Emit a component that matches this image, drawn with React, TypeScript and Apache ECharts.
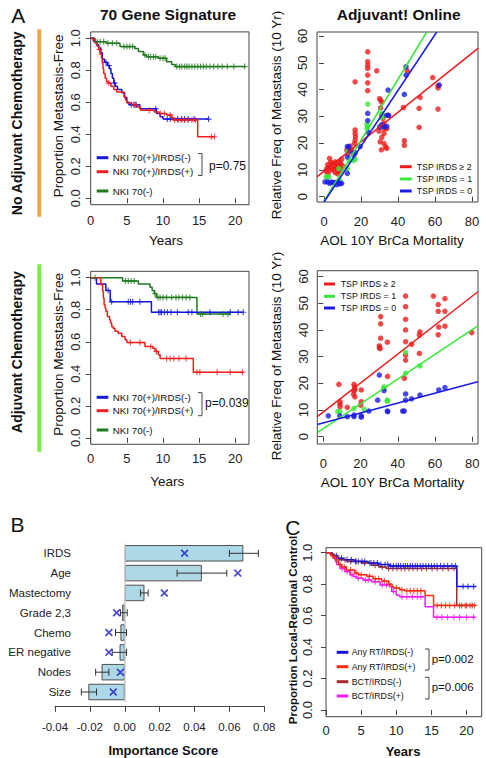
import React, { useEffect, useRef } from "react";
import * as echarts from "echarts";

const FONT = "'Liberation Sans', Arial, Helvetica, sans-serif";

// ---------- tick values ----------
const kmTicksX = [0, 5, 10, 15, 20];
const kmTicksY = [0, 0.2, 0.4, 0.6, 0.8, 1.0];
const scTicksX = [0, 20, 40, 60, 80];
const scTicksY = [0, 10, 20, 30, 40, 50, 60];
const bTicksX = [-0.04, -0.02, 0, 0.02, 0.04, 0.06, 0.08];

// ---------- Panel A, no adjuvant chemo (70 gene) ----------
const noAdjBlueSteps = [[0, 1], [0.4, 0.98], [0.8, 0.96], [1.1, 0.94], [1.4, 0.91], [1.6, 0.87], [1.9, 0.85], [2.3, 0.83], [2.6, 0.81], [2.8, 0.78], [3.0, 0.75], [3.2, 0.72], [3.4, 0.7], [3.7, 0.68], [4.3, 0.66], [4.7, 0.63], [5.0, 0.6], [5.3, 0.585], [6.8, 0.56], [9.1, 0.53], [9.6, 0.51], [10.0, 0.495]];
const noAdjBlueEnd = 16.3;
const noAdjBlueCens = [2.1, 2.5, 3.3, 5.6, 6.0, 6.3, 9.0, 10.6, 11.0, 12.0, 12.6, 13.0, 13.5, 14.3, 16.3];
const noAdjRedSteps = [[0, 1], [0.3, 0.99], [0.6, 0.97], [0.9, 0.95], [1.1, 0.93], [1.3, 0.9], [1.5, 0.875], [1.6, 0.845], [1.7, 0.81], [1.8, 0.78], [2.0, 0.75], [2.2, 0.73], [2.4, 0.72], [2.8, 0.7], [3.2, 0.68], [3.6, 0.665], [4.6, 0.635], [4.8, 0.615], [5.0, 0.595], [5.7, 0.585], [6.4, 0.57], [6.9, 0.55], [8.8, 0.54], [9.5, 0.53], [10.5, 0.52], [11.2, 0.505], [11.4, 0.49], [14.8, 0.385]];
const noAdjRedEnd = 17.2;
const noAdjRedCens = [1.2, 2.5, 6.0, 6.2, 8.1, 9.7, 10.2, 11.0, 11.6, 12.1, 12.5, 13.0, 13.5, 14.0, 14.5, 16.7, 17.1];
const noAdjGreenSteps = [[0, 1], [0.6, 0.979], [2.2, 0.969], [4.05, 0.948], [6.1, 0.937], [6.6, 0.917], [7.3, 0.896], [7.7, 0.885], [9.35, 0.875], [10.5, 0.854], [11.2, 0.837], [11.7, 0.823]];
const noAdjGreenEnd = 21.4;
const noAdjGreenCens = [0.9, 1.3, 1.8, 2.4, 3.0, 3.6, 4.6, 5.0, 5.4, 5.8, 7.5, 8.0, 8.3, 8.7, 9.0, 9.6, 10.0, 10.3, 11.9, 12.3, 12.6, 13.0, 13.3, 13.6, 14.0, 14.4, 14.8, 15.2, 15.6, 16.0, 16.5, 17.0, 17.6, 18.2, 18.9, 19.8, 21.3];

// ---------- Panel A, adjuvant chemo (70 gene) ----------
const adjBlueSteps = [[0, 1], [0.8, 0.96], [2.1, 0.92], [2.7, 0.85], [8.4, 0.784]];
const adjBlueEnd = 21.1;
const adjBlueCens = [2.4, 2.9, 5.2, 5.5, 5.8, 6.8, 9.4, 9.6, 9.8, 10.2, 10.6, 11.1, 12.0, 13.5, 14.0, 16.5, 19.3, 20.4, 21.1];
const adjRedSteps = [[0, 1], [1.4, 0.956], [1.65, 0.915], [1.75, 0.873], [1.85, 0.831], [2.0, 0.81], [2.1, 0.79], [2.3, 0.758], [2.6, 0.738], [2.75, 0.717], [2.9, 0.696], [3.1, 0.685], [3.35, 0.665], [3.8, 0.654], [4.3, 0.633], [4.75, 0.613], [5.0, 0.595], [7.5, 0.571], [8.6, 0.56], [8.9, 0.54], [9.35, 0.519], [9.6, 0.496], [14.2, 0.41]];
const adjRedEnd = 21.1;
const adjRedCens = [5.5, 6.8, 8.3, 9.1, 10.5, 11.0, 11.5, 12.2, 13.2, 14.7, 15.1, 17.5, 19.3, 21.0];
const adjGreenSteps = [[0, 1], [4.4, 0.98], [6.6, 0.96], [8.2, 0.94], [8.5, 0.92], [8.8, 0.9], [9.1, 0.877], [14.7, 0.773]];
const adjGreenEnd = 19.3;
const adjGreenCens = [0.6, 4.8, 5.2, 5.6, 6.0, 8.9, 9.3, 9.6, 10.0, 10.5, 11.2, 11.8, 12.2, 12.7, 13.2, 13.7, 15.2, 15.5, 18.3, 19.0];

// ---------- Adjuvant! Online scatter, no adjuvant ----------
const topRedPts = [[1.0, 9.5], [1.5, 10.5], [2.0, 12.0], [2.5, 11.0], [3.0, 14.3], [3.0, 9.8], [4.0, 10.5], [4.5, 12.5], [5.0, 10.0], [5.5, 11.5], [6.0, 9.0], [6.5, 11.0], [7.0, 10.2], [7.5, 12.0], [7.5, 8.5], [8.0, 9.5], [8.5, 11.0], [8.0, 13.0], [9.0, 10.0], [9.0, 12.5], [9.5, 14.0], [10.0, 11.5], [6.0, 13.0], [3.5, 12.8], [2.2, 8.5], [12.3, 17.4], [14.1, 18.9], [13.0, 16.0], [15.0, 17.5], [16.8, 24.9], [16.8, 23.6], [17.0, 22.4], [16.8, 21.1], [16.5, 19.9], [16.8, 42.9], [23.6, 54.1], [23.6, 50.4], [23.6, 49.1], [23.6, 47.9], [23.6, 45.4], [23.6, 42.5], [23.6, 39.6], [28.5, 47.0], [30.0, 36.6], [30.6, 36.0], [31.2, 35.3], [30.6, 33.2], [31.2, 30.4], [31.8, 29.1], [32.4, 27.3], [32.4, 25.4], [32.4, 23.6], [31.2, 22.1], [32.4, 19.8], [33.3, 18.6], [33.9, 18.0], [33.9, 25.4], [34.8, 30.4], [29.7, 24.5], [30.3, 20.5], [31.0, 17.5], [42.9, 33.3], [43.4, 20.9], [43.4, 19.2], [45.0, 47.0], [51.9, 37.1], [51.4, 33.0], [51.4, 25.9], [58.7, 44.5], [61.6, 40.6], [61.6, 41.5], [61.6, 32.7]];
const topGreenPts = [[1.1, 7.4], [1.8, 7.4], [2.5, 7.4], [8.6, 6.0], [8.0, 10.5], [12.6, 16.8], [12.6, 10.6], [13.7, 13.5], [16.8, 14.0], [16.0, 13.5], [23.2, 27.0], [23.6, 26.2], [23.2, 25.4], [23.6, 34.6], [31.2, 31.0], [31.8, 30.4], [31.2, 29.5]];
const topBluePts = [[44.3, 48.5], [44.3, 45.4], [43.4, 38.2], [62.3, 41.7], [34.6, 39.8], [33.9, 30.4], [34.8, 30.4], [31.2, 26.9], [32.4, 26.2], [33.9, 26.2], [23.6, 31.1], [23.6, 28.4], [12.6, 18.7], [13.3, 18.7], [14.1, 17.0], [12.6, 14.8], [12.6, 8.7], [16.8, 16.4], [19.5, 18.7], [0.5, 5.5], [2.0, 5.5], [4.0, 5.5], [3.0, 5.0], [5.0, 5.2], [6.0, 5.3], [6.9, 4.5], [8.6, 4.8], [9.5, 5.0], [7.5, 5.5], [30.0, 26.0], [16.0, 15.5], [24.0, 24.0]];
const topRedFit = [[-3.8, 7.4], [83.2, 55.4]];
const topGreenFit = [[-0.3, -2], [55.5, 61.5]];
const topBlueFit = [[0, -2], [60.9, 61.5]];

// ---------- Adjuvant! Online scatter, adjuvant ----------
const midRedPts = [[44.2, 52.7], [44.2, 48.7], [44.2, 44.0], [44.2, 40.0], [44.2, 35.6], [44.2, 30.6], [44.2, 28.7], [43.5, 21.9], [30.8, 45.0], [30.8, 42.3], [30.8, 36.9], [30.1, 34.0], [30.1, 33.4], [30.5, 33.0], [34.4, 35.4], [34.5, 22.6], [51.9, 39.3], [51.6, 38.1], [51.6, 31.2], [47.4, 34.6], [59.1, 52.7], [61.7, 49.5], [61.7, 47.0], [62.0, 41.1], [61.7, 38.2], [65.3, 51.7], [65.3, 47.0], [65.3, 41.4], [79.7, 39.0], [8.4, 19.6], [9.0, 13.1], [9.0, 12.2], [9.0, 11.2], [12.9, 11.0], [16.5, 19.6], [16.8, 18.7], [17.0, 17.7], [16.5, 17.1], [16.3, 15.9], [17.0, 14.9], [20.4, 17.5], [20.4, 13.1], [20.0, 11.8]];
const midGreenPts = [[44.2, 31.6], [44.2, 23.8], [32.6, 18.7], [32.6, 18.1], [34.4, 13.7], [34.4, 13.3], [51.9, 26.5], [7.8, 9.4], [8.9, 9.4], [16.5, 10.6], [21.9, 10.3]];
const midBluePts = [[2.7, 7.8], [8.9, 7.8], [12.9, 7.5], [16.5, 8.1], [16.5, 7.5], [20.4, 7.8], [20.4, 7.3], [24.5, 9.6], [30.1, 23.1], [32.6, 17.3], [29.2, 13.7], [34.4, 9.6], [34.6, 9.4], [42.6, 9.6], [43.5, 9.6], [44.2, 16.0], [44.2, 13.7], [47.4, 14.2], [51.9, 15.6], [62.0, 17.5], [65.3, 18.4]];
const midRedFit = [[-3.2, 7.5], [83.0, 54.3]];
const midGreenFit = [[-3.2, 1.5], [83.0, 41.5]];
const midBlueFit = [[-3.2, 4.6], [83.0, 20.6]];

// ---------- Panel B ----------
const bCats = ["IRDS", "Age", "Mastectomy", "Grade 2,3", "Chemo", "ER negative", "Nodes", "Size"];
const bScores = [0.068, 0.0442, 0.0113, -0.0015, -0.0025, -0.003, -0.0133, -0.0209];
const bErrLow = [0.06, 0.03, 0.009, -0.0025, -0.0053, -0.0072, -0.0167, -0.0249];
const bErrHigh = [0.0766, 0.0585, 0.0134, 0.0014, 0.001, 0.001, -0.0091, -0.0162];
const bCross = [0.0343, 0.0648, 0.0227, -0.0047, -0.0091, -0.0091, -0.0025, -0.0066];

// ---------- Panel C ----------
const cBlueSteps = [[0, 1], [0.8, 0.99], [1.2, 0.98], [1.6, 0.965], [2.5, 0.955], [4.0, 0.945], [6.0, 0.935], [7.5, 0.925], [9.0, 0.915], [18.6, 0.785]];
const cBlueEnd = 21.3;
const cBlueCens = [1.5, 2.2, 3.0, 3.6, 4.2, 4.6, 5.1, 5.5, 6.4, 6.8, 7.3, 7.8, 8.4, 8.8, 9.2, 9.6, 10.0, 10.3, 10.6, 11.0, 11.3, 11.6, 12.0, 12.3, 12.7, 13.0, 13.4, 13.8, 14.2, 14.6, 15.0, 15.4, 15.8, 16.3, 16.8, 17.3, 17.9, 18.4, 19.5, 20.2, 21.0];
const cBrownSteps = [[0, 1], [0.9, 0.985], [1.3, 0.97], [1.8, 0.955], [3.0, 0.945], [5.0, 0.935], [6.5, 0.92], [7.5, 0.91], [8.6, 0.9], [18.6, 0.665]];
const cBrownEnd = 21.3;
const cBrownCens = [1.8, 2.7, 3.5, 4.3, 5.5, 6.2, 7.0, 8.0, 8.9, 9.5, 10.1, 10.7, 11.2, 11.8, 12.4, 13.0, 13.6, 14.3, 15.1, 15.8, 16.6, 17.4, 18.2, 19.3, 20.0, 20.8];
const cRedSteps = [[0, 1], [0.6, 0.985], [1.0, 0.975], [1.4, 0.945], [1.8, 0.925], [2.2, 0.91], [2.9, 0.89], [4.1, 0.87], [4.6, 0.86], [5.8, 0.85], [6.7, 0.835], [7.9, 0.82], [8.9, 0.8], [9.4, 0.785], [9.6, 0.775], [10.5, 0.765], [11.2, 0.758], [14.1, 0.728], [15.3, 0.665]];
const cRedEnd = 21.2;
const cRedCens = [1.2, 2.0, 2.6, 3.5, 4.3, 5.0, 6.2, 7.0, 7.5, 8.3, 9.0, 10.0, 10.8, 11.5, 12.0, 12.5, 13.0, 13.5, 15.8, 16.4, 17.0, 17.6, 18.3, 19.0, 19.8, 20.5, 21.1];
const cMagSteps = [[0, 1], [0.7, 0.98], [1.0, 0.965], [1.5, 0.925], [2.0, 0.9], [2.7, 0.88], [3.4, 0.86], [3.9, 0.848], [4.4, 0.837], [5.3, 0.826], [6.5, 0.815], [7.7, 0.795], [9.1, 0.784], [9.35, 0.753], [10.0, 0.73], [10.5, 0.72], [14.1, 0.657], [15.3, 0.59]];
const cMagEnd = 21.2;
const cMagCens = [1.3, 2.3, 3.0, 3.7, 4.6, 5.6, 6.0, 7.0, 8.0, 8.6, 9.6, 10.8, 11.5, 12.3, 13.0, 13.5, 15.8, 16.5, 17.3, 18.2, 19.0, 20.0, 21.0];

// ---------- colours ----------
const KM_BLUE = "#1515e0";
const KM_RED = "#f01e1e";
const KM_GREEN = "#1f7a1f";
const SC_RED = "#ee1c1c";
const SC_GREEN = "#38e838";
const SC_BLUE = "#1a1ae6";
const C_BLUE = "#1414d8";
const C_RED = "#f42a10";
const C_BROWN = "#a32c2c";
const C_MAG = "#f21cf2";

const PLUS = "path://M2.45,0H3.55V6H2.45Z M0,2.45H6V3.55H0Z";
const CROSS = "path://M0,1.5L1.5,0L5,3.5L8.5,0L10,1.5L6.5,5L10,8.5L8.5,10L5,6.5L1.5,10L0,8.5L3.5,5Z";

function survAt(steps: number[][], t: number) {
  let s = steps[0][1];
  for (const p of steps) if (p[0] <= t) s = p[1];
  return s;
}

function kmSeries(steps: number[][], end: number, cens: number[], color: string, ax: number) {
  const line = steps.concat([[end, steps[steps.length - 1][1]]]);
  return [
    { type: "line", step: "end", xAxisIndex: ax, yAxisIndex: ax, data: line, symbol: "none", silent: true, lineStyle: { color, width: 1.5 }, z: 3 },
    { type: "scatter", xAxisIndex: ax, yAxisIndex: ax, data: cens.map((t) => [t, survAt(steps, t)]), symbol: PLUS, symbolSize: 6, silent: true, itemStyle: { color }, z: 4 },
  ];
}

function scSeries(pts: number[][], fit: number[][], color: string, ax: number) {
  return [
    { type: "scatter", xAxisIndex: ax, yAxisIndex: ax, data: pts, symbol: "circle", symbolSize: 5.5, silent: true, itemStyle: { color }, z: 3 },
    { type: "line", xAxisIndex: ax, yAxisIndex: ax, data: fit, symbol: "none", silent: true, clip: true, lineStyle: { color, width: 1.5 }, z: 4 },
  ];
}

const labelBase = { fontFamily: FONT, fontSize: 13, color: "#222" };

function valAxis(gridIndex: number, min: number, max: number, ticks: number[], margin: number, isY: boolean, fmt?: (v: number) => string) {
  return {
    type: "value", gridIndex, min, max,
    axisLine: { show: false },
    axisTick: { show: true, length: 5, customValues: ticks, lineStyle: { color: "#444" } },
    axisLabel: { ...labelBase, customValues: ticks, margin, rotate: isY ? 90 : 0, formatter: fmt },
    splitLine: { show: false },
  };
}

const f1 = (v: number) => v.toFixed(1);
const f2 = (v: number) => v.toFixed(2);

function txt(text: string, x: number, y: number, size: number, o: any = {}) {
  const align = o.align || "center";
  return {
    type: "text", x, y, rotation: o.rot ? Math.PI / 2 : 0, silent: true,
    style: {
      text, x: 0, y: 0, fill: o.color || "#111", fontSize: size, fontFamily: FONT,
      fontWeight: o.bold ? "bold" : "normal",
      align, textAlign: align, verticalAlign: "middle", textVerticalAlign: "middle",
    },
  };
}

function legLine(x1: number, x2: number, y: number, color: string) {
  return { type: "line", silent: true, shape: { x1, y1: y, x2, y2: y }, style: { stroke: color, lineWidth: 3 } };
}

function bracket(x: number, y1: number, y2: number) {
  return { type: "polyline", silent: true, shape: { points: [[x - 4, y1], [x, y1], [x, y2], [x - 4, y2]] }, style: { stroke: "#444", lineWidth: 1, fill: "none" } };
}

export default function App() {
  const ref = useRef<HTMLDivElement>(null);
  useEffect(() => {
    if (!ref.current) return;
    const chart = echarts.init(ref.current, undefined, { renderer: "svg" });
    const gridBox = { show: true, borderColor: "#444", borderWidth: 1, backgroundColor: "transparent" };
    const option: any = {
      animation: false,
      backgroundColor: "#ffffff",
      grid: [
        { ...gridBox, left: 90.7, top: 31.9, width: 158.3, height: 172.8 },
        { ...gridBox, left: 317, top: 32, width: 161, height: 170 },
        { ...gridBox, left: 90.7, top: 271.3, width: 158.3, height: 173 },
        { ...gridBox, left: 317.3, top: 270.7, width: 160.7, height: 173.3 },
        { show: false, left: 55, top: 543.4, width: 209.3, height: 158.5 },
        { ...gridBox, left: 326, top: 547.7, width: 155.7, height: 169 },
      ],
      xAxis: [
        valAxis(0, 0, 21.9, kmTicksX, 9, false),
        valAxis(1, -3.8, 83.2, scTicksX, 12.5, false),
        valAxis(2, 0, 21.9, kmTicksX, 8, false),
        valAxis(3, -3.2, 83.05, scTicksX, 12.5, false),
        {
          type: "value", gridIndex: 4, min: -0.04, max: 0.08, offset: 4,
          axisLine: { show: true, lineStyle: { color: "#444" } },
          axisTick: { show: true, length: 6, customValues: bTicksX, lineStyle: { color: "#444" } },
          axisLabel: { ...labelBase, fontSize: 11.5, customValues: bTicksX, margin: 15, formatter: f2 },
          splitLine: { show: false },
        },
        valAxis(5, 0, 22.15, kmTicksX, 7.5, false),
      ],
      yAxis: [
        valAxis(0, -0.04, 1.04, kmTicksY, 9, true, f1),
        valAxis(1, -2, 61.5, scTicksY, 7.7, true),
        valAxis(2, -0.04, 1.04, kmTicksY, 9, true, f1),
        valAxis(3, -2.74, 62.2, scTicksY, 7.7, true),
        {
          type: "category", gridIndex: 4, data: bCats, inverse: true,
          axisLine: { show: false }, axisTick: { show: false },
          axisLabel: { ...labelBase, fontSize: 11.5, margin: -16 },
          splitLine: { show: false },
        },
        valAxis(5, -0.043, 1.032, kmTicksY, 12, true, f1),
      ],
      series: [
        ...kmSeries(noAdjGreenSteps, noAdjGreenEnd, noAdjGreenCens, KM_GREEN, 0),
        ...kmSeries(noAdjBlueSteps, noAdjBlueEnd, noAdjBlueCens, KM_BLUE, 0),
        ...kmSeries(noAdjRedSteps, noAdjRedEnd, noAdjRedCens, KM_RED, 0),
        ...kmSeries(adjGreenSteps, adjGreenEnd, adjGreenCens, KM_GREEN, 2),
        ...kmSeries(adjBlueSteps, adjBlueEnd, adjBlueCens, KM_BLUE, 2),
        ...kmSeries(adjRedSteps, adjRedEnd, adjRedCens, KM_RED, 2),
        ...scSeries(topRedPts, topRedFit, SC_RED, 1),
        ...scSeries(topGreenPts, topGreenFit, SC_GREEN, 1),
        ...scSeries(topBluePts, topBlueFit, SC_BLUE, 1),
        ...scSeries(midRedPts, midRedFit, SC_RED, 3),
        ...scSeries(midGreenPts, midGreenFit, SC_GREEN, 3),
        ...scSeries(midBluePts, midBlueFit, SC_BLUE, 3),
        {
          type: "bar", xAxisIndex: 4, yAxisIndex: 4, data: bScores, barWidth: 16.5, silent: true,
          itemStyle: { color: "#add8e6", borderColor: "#505050", borderWidth: 1 },
          markLine: {
            silent: true, symbol: "none", label: { show: false },
            lineStyle: { color: "#c8c8c8", type: "solid", width: 1.5 },
            data: [{ xAxis: 0 }],
          },
          z: 2,
        },
        {
          type: "custom", xAxisIndex: 4, yAxisIndex: 4, silent: true, z: 5,
          data: bCats.map((_, i) => [i, bErrLow[i], bErrHigh[i]]),
          encode: { x: [1, 2], y: 0 },
          renderItem: (params: any, api: any) => {
            const lo = api.coord([api.value(1), api.value(0)]);
            const hi = api.coord([api.value(2), api.value(0)]);
            const st = { stroke: "#333", lineWidth: 1 };
            return {
              type: "group",
              children: [
                { type: "line", shape: { x1: lo[0], y1: lo[1], x2: hi[0], y2: hi[1] }, style: st },
                { type: "line", shape: { x1: lo[0], y1: lo[1] - 3.5, x2: lo[0], y2: lo[1] + 3.5 }, style: st },
                { type: "line", shape: { x1: hi[0], y1: hi[1] - 3.5, x2: hi[0], y2: hi[1] + 3.5 }, style: st },
              ],
            };
          },
        },
        {
          type: "scatter", xAxisIndex: 4, yAxisIndex: 4, silent: true, z: 6,
          data: bCats.map((_, i) => [bCross[i], i]),
          symbol: CROSS, symbolSize: 8, itemStyle: { color: "#1c1cd0" },
        },
        ...kmSeries(cBrownSteps, cBrownEnd, cBrownCens, C_BROWN, 5),
        ...kmSeries(cBlueSteps, cBlueEnd, cBlueCens, C_BLUE, 5),
        ...kmSeries(cMagSteps, cMagEnd, cMagCens, C_MAG, 5),
        ...kmSeries(cRedSteps, cRedEnd, cRedCens, C_RED, 5),
      ],
      graphic: [
        { type: "rect", silent: true, shape: { x: 37.3, y: 29.3, width: 4, height: 187.4 }, style: { fill: "#f5a443" } },
        { type: "rect", silent: true, shape: { x: 37.3, y: 264.3, width: 4, height: 187.4 }, style: { fill: "#74f03e" } },
        txt("A", 18.3, 15, 21),
        txt("B", 17.5, 524, 21),
        txt("C", 292.8, 527.5, 21),
        txt("70 Gene Signature", 168, 14, 15.5, { bold: true }),
        txt("Adjuvant! Online", 398.7, 14, 15.5, { bold: true }),
        txt("No Adjuvant Chemotherapy", 16.7, 123.3, 14, { bold: true, rot: true }),
        txt("Adjuvant Chemotherapy", 16.7, 352, 14, { bold: true, rot: true }),
        txt("Proportion Metastasis-Free", 58.3, 115.8, 13.5, { rot: true }),
        txt("Proportion Metastasis-Free", 58.3, 354.3, 13.5, { rot: true }),
        txt("Years", 166, 240.5, 13.5),
        txt("Years", 167.3, 481.7, 13.5),
        txt("Relative Freq of Metastasis (10 Yr)", 276.2, 115, 13.5, { rot: true }),
        txt("Relative Freq of Metastasis (10 Yr)", 276, 356, 13.5, { rot: true }),
        txt("AOL 10Y BrCa Mortality", 392, 240.5, 13.5),
        txt("AOL 10Y BrCa Mortality", 392.5, 482.5, 13.5),
        txt("Importance Score", 163.3, 750, 13, { bold: true }),
        txt("Years", 403, 751, 13, { bold: true }),
        txt("Proportion Local-Regional Control", 293.3, 630, 11.5, { bold: true, rot: true }),
        // legend: top-left KM
        legLine(96.7, 108.3, 157.7, KM_BLUE), txt("NKI 70(+)/IRDS(-)", 112.7, 157.7, 9.8, { align: "left" }),
        legLine(96.7, 108.3, 171.7, KM_RED), txt("NKI 70(+)/IRDS(+)", 112.7, 171.7, 9.8, { align: "left" }),
        legLine(96.7, 108.3, 191, KM_GREEN), txt("NKI 70(-)", 112.7, 191, 9.8, { align: "left" }),
        bracket(202, 153.5, 175.5), txt("p=0.75", 209, 165.7, 12, { align: "left" }),
        // legend: middle-left KM
        legLine(96.7, 108.3, 397.3, KM_BLUE), txt("NKI 70(+)/IRDS(-)", 112.7, 397.3, 9.8, { align: "left" }),
        legLine(96.7, 108.3, 410.7, KM_RED), txt("NKI 70(+)/IRDS(+)", 112.7, 410.7, 9.8, { align: "left" }),
        legLine(96.7, 108.3, 430, KM_GREEN), txt("NKI 70(-)", 112.7, 430, 9.8, { align: "left" }),
        bracket(202, 392.7, 415.7), txt("p=0.039", 205, 403.3, 12, { align: "left" }),
        // legend: top-right scatter
        legLine(400, 411.7, 166.7, SC_RED), txt("TSP IRDS ≥ 2", 416.7, 166.7, 8.8, { align: "left" }),
        legLine(400, 411.7, 179, SC_GREEN), txt("TSP IRDS = 1", 416.7, 179, 8.8, { align: "left" }),
        legLine(400, 411.7, 191, SC_BLUE), txt("TSP IRDS = 0", 416.7, 191, 8.8, { align: "left" }),
        // legend: middle-right scatter
        legLine(324, 335, 284, SC_RED), txt("TSP IRDS ≥ 2", 340.7, 284, 8.8, { align: "left" }),
        legLine(324, 335, 296.3, SC_GREEN), txt("TSP IRDS = 1", 340.7, 296.3, 8.8, { align: "left" }),
        legLine(324, 335, 308, SC_BLUE), txt("TSP IRDS = 0", 340.7, 308, 8.8, { align: "left" }),
        // legend: panel C
        legLine(336.7, 348.3, 652.3, C_BLUE), txt("Any RT/IRDS(-)", 351.7, 652.3, 8.8, { align: "left" }),
        legLine(336.7, 348.3, 666.7, C_RED), txt("Any RT/IRDS(+)", 351.7, 666.7, 8.8, { align: "left" }),
        legLine(336.7, 348.3, 681.7, C_BROWN), txt("BCT/IRDS(-)", 351.7, 681.7, 8.8, { align: "left" }),
        legLine(336.7, 348.3, 696, C_MAG), txt("BCT/IRDS(+)", 351.7, 696, 8.8, { align: "left" }),
        bracket(429, 649, 670), txt("p=0.002", 431.7, 659.3, 11.5, { align: "left" }),
        bracket(429, 677.3, 699), txt("p=0.006", 431.7, 687.3, 11.5, { align: "left" }),
      ],
    };
    chart.setOption(option);
    return () => chart.dispose();
  }, []);
  return (
    <div
      ref={ref}
      style={{ position: "absolute", left: 0, top: 0, width: 486, height: 758, background: "#fff" }}
    />
  );
}
